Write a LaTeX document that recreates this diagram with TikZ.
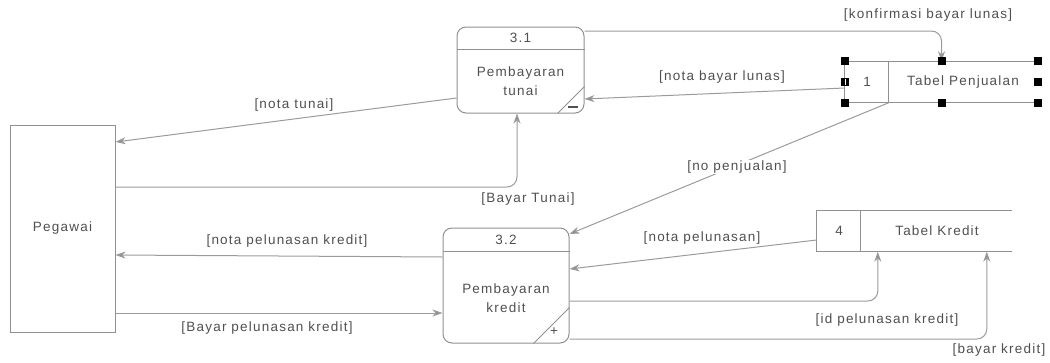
\documentclass[tikz,border=0pt]{standalone}
\usepackage{fontspec}
\setmainfont{Liberation Sans}[LetterSpace=9]
\usetikzlibrary{arrows.meta,calc}
\definecolor{edgeC}{RGB}{155,155,155}
\definecolor{boxC}{RGB}{145,145,145}
\definecolor{txtC}{RGB}{80,80,80}
\definecolor{tipC}{RGB}{140,140,140}
\begin{document}
\begin{tikzpicture}[x=1pt,y=-1pt,
  every node/.style={font=\fontsize{13.5}{19}\selectfont, text=txtC, inner sep=0pt},
  entity/.style={draw=boxC, line width=1pt, minimum width=105pt, minimum height=207pt},
  procbox/.style={draw=boxC, line width=1pt, rounded corners=9pt},
  store/.style={minimum width=#1, minimum height=41pt},
  flow/.style={draw=edgeC, line width=1pt, -{Stealth[length=10pt,width=7pt,inset=3pt,fill=tipC]}},
  lbl/.style={fill=white, inner sep=1pt},
  handle/.style={fill=black, minimum size=8pt, inner sep=0pt}
]
\useasboundingbox (0,0) rectangle (1050,362);

% external entity
\node[entity] (peg) at (62.5,228.5) {Pegawai};

% process 3.1
\node[procbox, minimum width=127pt, minimum height=86pt] (p31) at (520.5,70) {};
\draw[boxC, line width=1pt] ([yshift=-23pt]p31.north west) -- ([yshift=-23pt]p31.north east);
\draw[boxC, line width=1pt] ([xshift=-27pt]p31.south east) -- ([yshift=27pt]p31.south east);
\node (p31id) at ([yshift=-11pt]p31.north) {3.1};
\node[align=center] (p31t) at (520.5,81.5) {Pembayaran\\tunai};
\node[minimum width=10pt, minimum height=2pt, fill=txtC] (p31s) at (573,107) {};

% process 3.2
\node[procbox, minimum width=126pt, minimum height=115pt] (p32) at (506,285.5) {};
\draw[boxC, line width=1pt] ([yshift=-24pt]p32.north west) -- ([yshift=-24pt]p32.north east);
\draw[boxC, line width=1pt] ([xshift=-36pt]p32.south east) -- ([yshift=36pt]p32.south east);
\node (p32id) at ([yshift=-12pt]p32.north) {3.2};
\node[align=center] (p32t) at (506,298) {Pembayaran\\kredit};
\node (p32s) at (554,332) {+};

% data store 1
\node[store=193pt] (ts1) at (941.5,82) {};
\draw[boxC, line width=1pt] (ts1.north east) -- (ts1.north west) -- (ts1.south west) -- (ts1.south east);
\draw[boxC, line width=1pt] ([xshift=44pt]ts1.north west) -- ([xshift=44pt]ts1.south west);
\node (ts1n) at (867,82) {1};
\node (ts1t) at (963,82) {Tabel Penjualan};

% data store 4
\node[store=195pt] (tk) at (914.5,231) {};
\draw[boxC, line width=1pt] (tk.north east) -- (tk.north west) -- (tk.south west) -- (tk.south east);
\draw[boxC, line width=1pt] ([xshift=44pt]tk.north west) -- ([xshift=44pt]tk.south west);
\node (tkn) at (839,231) {4};
\node (tkt) at (937,231) {Tabel Kredit};

% flows
\draw[flow, rounded corners=10pt] ([yshift=39pt]p31.east) -| (ts1.north);
\draw[flow] ([yshift=-6pt]ts1.west) -- ([yshift=-29pt]p31.east);
\draw[flow] ([yshift=-28pt]p31.west) -- ([yshift=86.5pt]peg.east);
\draw[flow, rounded corners=10pt] ([yshift=41.5pt]peg.east) -| ([xshift=-3.5pt]p31.south);
\draw[flow] ([xshift=44pt]ts1.south west) -- ([yshift=51.5pt]p32.east);
\draw[flow] ([yshift=28.5pt]p32.west) -- ([yshift=-26.5pt]peg.east);
\draw[flow] ([yshift=-84.5pt]peg.east) -- ([yshift=-27.5pt]p32.west);
\draw[flow] ([yshift=-9pt]tk.west) -- ([yshift=16.5pt]p32.east);
\draw[flow, rounded corners=10pt] ([yshift=-15.5pt]p32.east) -| ([xshift=61pt]tk.south west);
\draw[flow, rounded corners=10pt] ([yshift=-53.5pt]p32.east) -| ([xshift=170pt]tk.south west);

% flow labels
\node[lbl] (l1) at (928,15) {[konfirmasi bayar lunas]};
\node[lbl] (l2) at (722,77) {[nota bayar lunas]};
\node[lbl] (l3) at (294,105) {[nota tunai]};
\node[lbl] (l4) at (528,199) {[Bayar Tunai]};
\node[lbl] (l5) at (737,167) {[no penjualan]};
\node[lbl] (l6) at (287,241) {[nota pelunasan kredit]};
\node[lbl] (l7) at (267,328) {[Bayar pelunasan kredit]};
\node[lbl] (l8) at (702,238) {[nota pelunasan]};
\node[lbl] (l9) at (887,320) {[id pelunasan kredit]};
\node[lbl] (l10) at (999,350) {[bayar kredit]};

% selection handles on the store
\foreach \hx/\hy [count=\i] in {845/61,845/82,845/103,942/61,942/103,1038/61,1038/82,1038/103}
  \node[handle] (h\i) at (\hx,\hy) {};
\draw[white, line width=0.8pt] ([yshift=3pt]h2.center) -- ([yshift=-3pt]h2.center);
\end{tikzpicture}
\end{document}
